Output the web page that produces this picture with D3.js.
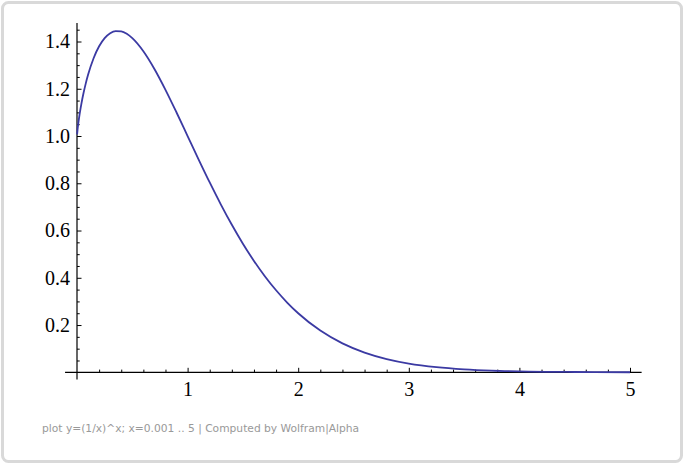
<!DOCTYPE html>
<html>
<head>
<meta charset="utf-8">
<script src="https://cdn.jsdelivr.net/npm/d3@7"></script>
<style>
  html, body { margin: 0; padding: 0; background: #ffffff; }
  svg { display: block; }
</style>
</head>
<body>
<svg id="chart" width="684" height="464"></svg>
<script>
// Curve samples
const xValues = [0.001, 0.005, 0.01, 0.02, 0.03, 0.04, 0.06, 0.08, 0.1, 0.15, 0.2, 0.25, 0.3, 0.35, 0.4, 0.45, 0.5, 0.6, 0.7, 0.8, 0.9, 1.0, 1.1, 1.2, 1.3, 1.4, 1.5, 1.6, 1.7, 1.8, 1.9, 2.0, 2.2, 2.4, 2.6, 2.8, 3.0, 3.25, 3.5, 3.75, 4.0, 4.5, 5.0];
const yValues = [1.0069, 1.0268, 1.0471, 1.0814, 1.1109, 1.1374, 1.1839, 1.2239, 1.2589, 1.3292, 1.3797, 1.4142, 1.4351, 1.4440, 1.4427, 1.4324, 1.4142, 1.3586, 1.2836, 1.1954, 1.0995, 1.0, 0.9005, 0.8035, 0.7110, 0.6243, 0.5443, 0.4714, 0.4057, 0.3471, 0.2954, 0.25, 0.1765, 0.1223, 0.0834, 0.0560, 0.0370, 0.0217, 0.0125, 0.0070, 0.0039, 0.0012, 0.0003];

const xTickValues = [1, 2, 3, 4, 5];
const xTickLabels = ["1", "2", "3", "4", "5"];
const xMinorTicks = [0.2, 0.4, 0.6, 0.8, 1.2, 1.4, 1.6, 1.8, 2.2, 2.4, 2.6, 2.8, 3.2, 3.4, 3.6, 3.8, 4.2, 4.4, 4.6, 4.8];
const yTickValues = [0.2, 0.4, 0.6, 0.8, 1.0, 1.2, 1.4];
const yTickLabels = ["0.2", "0.4", "0.6", "0.8", "1.0", "1.2", "1.4"];
const yMinorTicks = [0.05, 0.1, 0.15, 0.25, 0.3, 0.35, 0.45, 0.5, 0.55, 0.65, 0.7, 0.75, 0.85, 0.9, 0.95, 1.05, 1.1, 1.15, 1.25, 1.3, 1.35, 1.45];
const footerText = "plot y=(1/x)^x; x=0.001 .. 5 | Computed by Wolfram|Alpha";

const svg = d3.select("#chart");

// frame
svg.append("rect")
  .attr("x", 2.5).attr("y", 2.5)
  .attr("width", 679).attr("height", 459)
  .attr("rx", 6).attr("ry", 6)
  .attr("fill", "#ffffff")
  .attr("stroke", "#d9d9d9")
  .attr("stroke-width", 3);

const x = d3.scaleLinear().domain([0, 5]).range([77, 630]);
const y = d3.scaleLinear().domain([0, 1.4]).range([372.3, 41.5]);

const axisColor = "#000";
const serif = "'Liberation Serif', 'Times New Roman', serif";
const labelSize = 20;

// axis lines
svg.append("line")
  .attr("x1", x(-0.108)).attr("x2", x(5.105))
  .attr("y1", y(0)).attr("y2", y(0))
  .attr("stroke", axisColor).attr("stroke-width", 1.2);
svg.append("line")
  .attr("x1", x(0)).attr("x2", x(0))
  .attr("y1", y(-0.031)).attr("y2", y(1.478))
  .attr("stroke", axisColor).attr("stroke-width", 1.2);

// x axis major
const gx = svg.append("g")
  .attr("transform", `translate(0,${y(0)})`)
  .call(d3.axisBottom(x).tickValues(xTickValues)
    .tickFormat((d, i) => xTickLabels[i])
    .tickSizeInner(-4.5).tickSizeOuter(0).tickPadding(10));
gx.select(".domain").remove();
gx.selectAll("line").attr("stroke", axisColor).attr("stroke-width", 1);
gx.selectAll("text").attr("font-family", serif).attr("font-size", labelSize).attr("fill", "#000");

// x axis minor
const gxm = svg.append("g")
  .attr("transform", `translate(0,${y(0)})`)
  .call(d3.axisBottom(x).tickValues(xMinorTicks).tickFormat("")
    .tickSizeInner(-2.7).tickSizeOuter(0));
gxm.select(".domain").remove();
gxm.selectAll("line").attr("stroke", axisColor).attr("stroke-width", 1);

// y axis major
const gy = svg.append("g")
  .attr("transform", `translate(${x(0)},0)`)
  .call(d3.axisLeft(y).tickValues(yTickValues)
    .tickFormat((d, i) => yTickLabels[i])
    .tickSizeInner(-4.5).tickSizeOuter(0).tickPadding(7));
gy.select(".domain").remove();
gy.selectAll("line").attr("stroke", axisColor).attr("stroke-width", 1);
gy.selectAll("text").attr("font-family", serif).attr("font-size", labelSize).attr("fill", "#000");

// y axis minor
const gym = svg.append("g")
  .attr("transform", `translate(${x(0)},0)`)
  .call(d3.axisLeft(y).tickValues(yMinorTicks).tickFormat("")
    .tickSizeInner(-2.7).tickSizeOuter(0));
gym.select(".domain").remove();
gym.selectAll("line").attr("stroke", axisColor).attr("stroke-width", 1);

// curve
const data = xValues.map((v, i) => [v, yValues[i]]);
svg.append("path")
  .datum(data)
  .attr("fill", "none")
  .attr("stroke", "#3b3aa3")
  .attr("stroke-width", 1.8)
  .attr("stroke-linejoin", "round")
  .attr("d", d3.line().x(d => x(d[0])).y(d => y(d[1])).curve(d3.curveMonotoneX));

// footer
svg.append("text")
  .attr("x", 42).attr("y", 432)
  .attr("font-family", "'DejaVu Sans', sans-serif")
  .attr("font-size", 10.7)
  .attr("fill", "#999")
  .text(footerText);
</script>
</body>
</html>
